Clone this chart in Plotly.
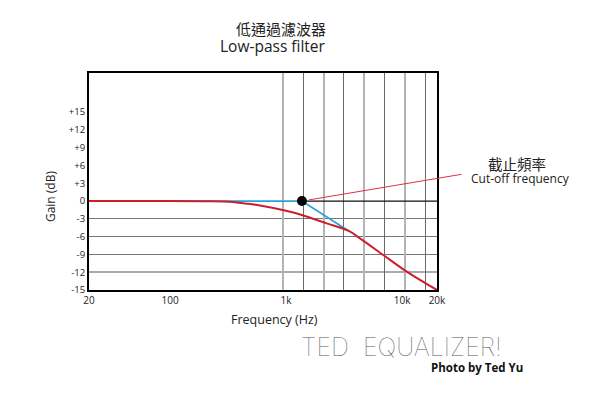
import plotly.graph_objects as go
import math

# ---- data ----
red_freq = [20, 100, 200, 328, 442, 596, 978, 1344, 2240, 3438, 4336, 6888, 10960, 20000]
red_gain = [0, 0, -0.02, -0.1, -0.4, -0.75, -1.6, -2.3, -3.76, -5.0, -6.29, -9.1, -11.9, -15]
cutoff_freq = 1370
blue_freq = [20, cutoff_freq, 3438]
blue_gain = [0, 0, -5.0]
flat_freq = [cutoff_freq, 20000]
flat_gain = [0, 0]
x_tick_vals = [20, 100, 1000, 10000, 20000]
x_tick_text = ["20", "100", "1k", "10k", "20k"]
y_tick_vals = [15, 12, 9, 6, 3, 0, -3, -6, -9, -12, -15]
y_tick_text = ["+15", "+12", "+9", "+6", "+3", "0", "-3", "-6", "-9", "-12", "-15"]
y_grid_dark = [-3, -6, -9]
y_grid_light = [-12]
v_grid_light = [0, 2, 4, 6]
v_grid_dark = [1, 3, 5, 7]

FONT = "Open Sans"
CJK = "Noto Sans CJK TC"
y_range = [-15, 21.6]

fig = go.Figure()

# invisible traces to activate overlay axes (grid helpers)
fig.add_trace(go.Scatter(x=[], y=[], xaxis="x2", yaxis="y", showlegend=False, hoverinfo="skip"))
fig.add_trace(go.Scatter(x=[], y=[], xaxis="x3", yaxis="y", showlegend=False, hoverinfo="skip"))
fig.add_trace(go.Scatter(x=[], y=[], xaxis="x", yaxis="y2", showlegend=False, hoverinfo="skip"))
fig.add_trace(go.Scatter(x=[], y=[], xaxis="x", yaxis="y3", showlegend=False, hoverinfo="skip"))

fig.add_trace(go.Scatter(x=flat_freq, y=flat_gain, mode="lines",
                         line=dict(color="#111111", width=1.3), showlegend=False, hoverinfo="skip"))
fig.add_trace(go.Scatter(x=blue_freq, y=blue_gain, mode="lines",
                         line=dict(color="#2aa0dc", width=1.8), showlegend=False))
fig.add_trace(go.Scatter(x=red_freq, y=red_gain, mode="lines",
                         line=dict(color="#cc1f2b", width=2, shape="spline", smoothing=1.0),
                         showlegend=False))
fig.add_trace(go.Scatter(x=[cutoff_freq], y=[0], mode="markers",
                         marker=dict(color="#000000", size=10), showlegend=False))

gmin = -9.557
gmax = 7.586

# page body has an 8px default margin, so the figure is 8px smaller
fig.update_layout(
    width=592, height=401,
    margin=dict(l=81, r=163, t=65, b=119),
    paper_bgcolor="white", plot_bgcolor="white",
    font=dict(family=FONT, color="#222222"),
    xaxis=dict(type="log", range=[math.log10(20), math.log10(20000)],
               tickvals=x_tick_vals, ticktext=x_tick_text, showgrid=False,
               zeroline=False, showline=True, mirror=True, linecolor="#000000",
               linewidth=2, ticks="", tickfont=dict(size=10, family=FONT)),
    yaxis=dict(range=y_range, tickvals=y_tick_vals, ticktext=y_tick_text,
               showgrid=False, zeroline=False, showline=True, mirror=True,
               linecolor="#000000", linewidth=2, ticks="",
               tickfont=dict(size=9.5, family=FONT)),
    xaxis2=dict(overlaying="x", range=[gmin, gmax], tickvals=v_grid_light,
                showticklabels=False, showgrid=True, gridcolor="#b4b4b4", gridwidth=1.5,
                zeroline=False, showline=False, ticks=""),
    xaxis3=dict(overlaying="x", range=[gmin, gmax], tickvals=v_grid_dark,
                showticklabels=False, showgrid=True, gridcolor="#6a6a6a", gridwidth=1,
                zeroline=False, showline=False, ticks=""),
    yaxis2=dict(overlaying="y", range=y_range, tickvals=y_grid_dark,
                showticklabels=False, showgrid=True, gridcolor="#777777", gridwidth=1,
                zeroline=False, showline=False, ticks=""),
    yaxis3=dict(overlaying="y", range=y_range, tickvals=y_grid_light,
                showticklabels=False, showgrid=True, gridcolor="#aaaaaa", gridwidth=1.5,
                zeroline=False, showline=False, ticks=""),
)

def txt(text, x, y, size, family=FONT, color="#222222", xanchor="center", **kw):
    d = dict(text=text, x=x, y=y, xref="paper", yref="paper", xanchor=xanchor,
             yanchor="middle", showarrow=False,
             font=dict(family=family, size=size, color=color))
    d.update(kw)
    return d

ann = [
    txt("低通過濾波器", 0.687, 1.207, 15, family=CJK, xanchor="right"),
    txt("Low-pass filter", 0.687, 1.124, 15.5, xanchor="right"),
    txt("Gain (dB)", -0.112, 0.433, 12, textangle=-90),
    txt("Frequency (Hz)", 0.532, -0.134, 12.5),
    txt("截止頻率", 1.23, 0.585, 14.5, family=CJK),
    txt("Cut-off frequency", 1.239, 0.512, 12),
    dict(text="TED  EQUALIZER!", x=0.897, y=-0.263, xref="paper", yref="paper",
         xanchor="center", yanchor="middle", showarrow=False,
         font=dict(family="Inter", size=25, color="#555555", weight=100)),
    txt("<b>Photo by Ted Yu</b>", 1.116, -0.355, 11.5, color="#111111"),
    dict(text="", x=math.log10(cutoff_freq), y=0, xref="x", yref="y", showarrow=True,
         arrowhead=0, arrowwidth=1, arrowcolor="#e0304a", ax=161, ay=-27, standoff=7),
]
fig.update_layout(annotations=ann)

fig.write_html("out.html")
